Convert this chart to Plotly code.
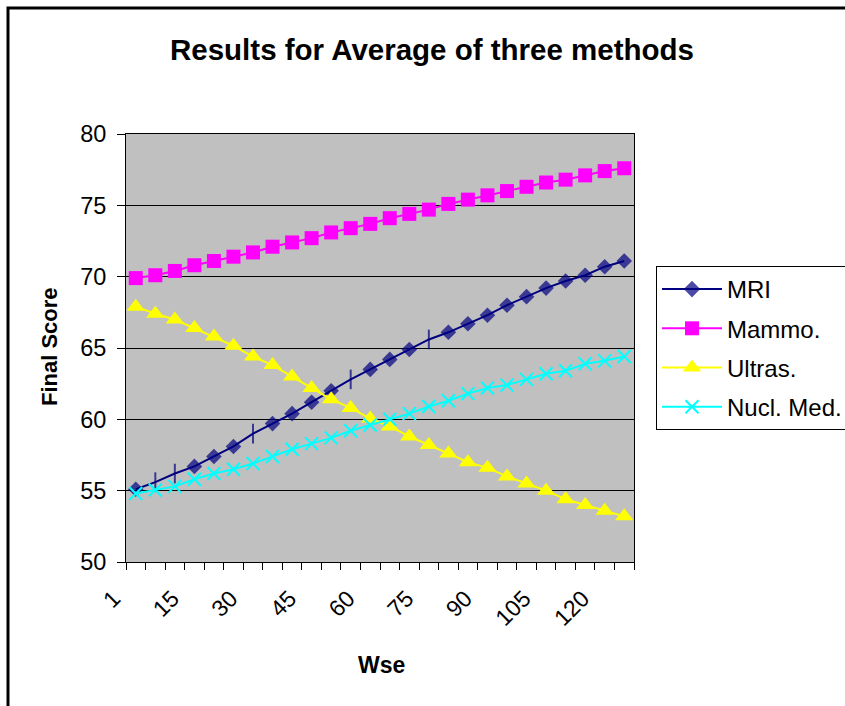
import plotly.graph_objects as go

# ---- data ----
wse = ["1", "5", "10", "15", "20", "25", "30", "35", "40", "45", "50", "55", "60",
       "65", "70", "75", "80", "85", "90", "95", "100", "105", "110", "115", "120", "125"]
shown_labels = ["1", "15", "30", "45", "60", "75", "90", "105", "120"]

mri = [55.1, 55.6, 56.2, 56.7, 57.4, 58.1, 59.0, 59.7, 60.4, 61.2, 62.0, 62.8, 63.5,
       64.2, 64.9, 65.6, 66.1, 66.7, 67.3, 68.0, 68.6, 69.2, 69.7, 70.1, 70.7, 71.1]
mammo = [69.9, 70.1, 70.4, 70.8, 71.1, 71.4, 71.7, 72.1, 72.4, 72.7, 73.1, 73.4, 73.7,
         74.1, 74.4, 74.7, 75.1, 75.4, 75.7, 76.0, 76.3, 76.6, 76.8, 77.1, 77.4, 77.6]
ultras = [67.9, 67.4, 67.0, 66.4, 65.8, 65.15, 64.4, 63.8, 63.0, 62.2, 61.4, 60.8, 60.05,
          59.5, 58.8, 58.2, 57.6, 57.0, 56.6, 56.0, 55.5, 55.0, 54.4, 54.0, 53.6, 53.2]
nucl_med = [54.8, 55.05, 55.3, 55.8, 56.2, 56.5, 56.9, 57.4, 57.9, 58.3, 58.7, 59.2, 59.6,
            60.0, 60.4, 60.9, 61.3, 61.8, 62.2, 62.4, 62.8, 63.2, 63.4, 63.9, 64.1, 64.4]

# ---- styling ----
FONT = "Liberation Sans, Arial, sans-serif"
tick_text = [c if c in shown_labels else "" for c in wse]

# in the reference some MRI markers render as thin vertical strokes
thin_idx = {1, 2, 6, 11, 15}
mri_symbols = ["line-ns" if i in thin_idx else "diamond" for i in range(len(wse))]
mri_sizes = [14 if i in thin_idx else 12 for i in range(len(wse))]
mri_lw = [2 if i in thin_idx else 0 for i in range(len(wse))]

fig = go.Figure()
fig.add_trace(go.Scatter(
    x=wse, y=mri, name="MRI", mode="lines+markers", legendgroup="a",
    line=dict(color="#000080", width=2),
    marker=dict(symbol=mri_symbols, size=mri_sizes, color="#000080",
                line=dict(color="#000080", width=mri_lw)),
))
fig.add_trace(go.Scatter(
    x=wse, y=mammo, name="Mammo.", mode="lines+markers", legendgroup="b",
    line=dict(color="#FF00FF", width=2),
    marker=dict(symbol="square", size=14, color="#FF00FF"),
))
fig.add_trace(go.Scatter(
    x=wse, y=ultras, name="Ultras.", mode="lines+markers", legendgroup="c",
    line=dict(color="#FFFF00", width=2),
    marker=dict(symbol="triangle-up", size=16, color="#FFFF00"),
))
fig.add_trace(go.Scatter(
    x=wse, y=nucl_med, name="Nucl. Med.", mode="lines+markers", legendgroup="d",
    line=dict(color="#00FFFF", width=2),
    marker=dict(symbol="x-thin", size=13, color="#00FFFF",
                line=dict(color="#00FFFF", width=2)),
))

L, R, T, B = 126, 634, 134, 562
W, H = 845, 706
pw, ph = R - L, B - T

def px_x(x):
    return (x - L) / pw

def px_y(y):
    return (B - y) / ph

fig.update_layout(
    width=W, height=H,
    margin=dict(l=L, r=W - R, t=T, b=H - B, pad=0, autoexpand=False),
    paper_bgcolor="white",
    plot_bgcolor="#C0C0C0",
    font=dict(family=FONT, color="black", size=22),
    title=dict(text="<b>Results for Average of three methods</b>",
               font=dict(family=FONT, size=29.5, color="black"),
               x=432 / W, xanchor="center", xref="container",
               y=1 - 50 / H, yanchor="middle", yref="container"),
    xaxis=dict(
        type="category", categoryorder="array", categoryarray=wse,
        tickmode="array", tickvals=wse, ticktext=tick_text,
        tickson="boundaries", ticks="outside", ticklen=7, tickcolor="black",
        tickwidth=1, tickangle=-45, tickfont=dict(size=23),
        ticklabelstandoff=13, ticklabelshift=-22,
        showgrid=False, showline=True, linecolor="black", linewidth=1,
        mirror=True, zeroline=False, automargin=False,
        range=[-0.5, len(wse) - 0.5],
    ),
    yaxis=dict(
        range=[50, 80], dtick=5, tick0=50,
        ticks="outside", ticklen=8, tickcolor="black", tickwidth=1,
        tickfont=dict(size=23.5), ticklabelstandoff=6,
        showgrid=True, gridcolor="black", gridwidth=1,
        showline=True, linecolor="black", linewidth=1, mirror=True,
        zeroline=False, automargin=False,
    ),
    legend=dict(
        x=px_x(656), xanchor="left", y=px_y(266), yanchor="top",
        bgcolor="white", bordercolor="black", borderwidth=1,
        font=dict(family=FONT, size=24, color="black"),
        tracegroupgap=5, itemwidth=60,
    ),
    showlegend=True,
)

fig.add_annotation(text="<b>Final Score</b>", xref="paper", yref="paper",
                   x=px_x(49), y=px_y(347), textangle=-90, showarrow=False,
                   font=dict(family=FONT, size=22, color="black"),
                   xanchor="center", yanchor="middle")
fig.add_annotation(text="<b>Wse</b>", xref="paper", yref="paper",
                   x=px_x(381), y=px_y(665), showarrow=False,
                   font=dict(family=FONT, size=23, color="black"),
                   xanchor="center", yanchor="middle")

# outer chart frame
fig.add_shape(type="rect", xref="paper", yref="paper",
              x0=px_x(8), x1=px_x(860), y0=px_y(720), y1=px_y(8),
              line=dict(color="black", width=3), fillcolor="rgba(0,0,0,0)")

fig.write_html("out.html", config={"displayModeBar": False},
               post_script="document.body.style.margin='0';document.body.style.overflow='hidden';")
